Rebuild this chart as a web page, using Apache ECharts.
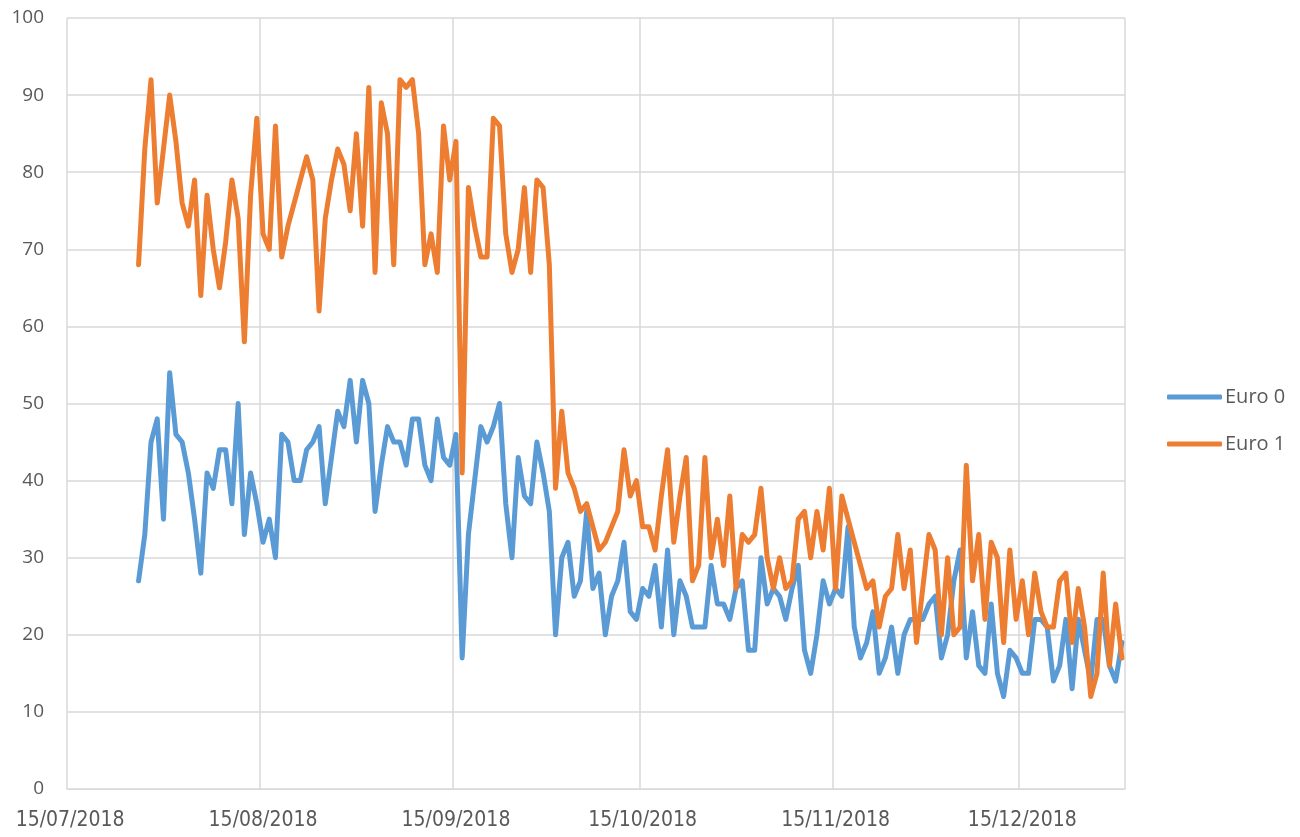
<!DOCTYPE html>
<html>
<head>
<meta charset="utf-8">
<script src="https://cdn.jsdelivr.net/npm/echarts@6/dist/echarts.min.js"></script>
<style>
  html, body { margin: 0; padding: 0; background: #fff; }
  #chart { width: 1300px; height: 837px; }
</style>
</head>
<body>
<div id="chart"></div>
<script>
// daily values, 26/07/2018 .. 31/12/2018
const euro0 = [
  27, 33, 45, 48, 35, 54, 46, 45, 41, 35,
  28, 41, 39, 44, 44, 37, 50, 33, 41, 37,
  32, 35, 30, 46, 45, 40, 40, 44, 45, 47,
  37, 43, 49, 47, 53, 45, 53, 50, 36, 42,
  47, 45, 45, 42, 48, 48, 42, 40, 48, 43,
  42, 46, 17, 33, 40, 47, 45, 47, 50, 37,
  30, 43, 38, 37, 45, 41, 36, 20, 30, 32,
  25, 27, 36, 26, 28, 20, 25, 27, 32, 23,
  22, 26, 25, 29, 21, 31, 20, 27, 25, 21,
  21, 21, 29, 24, 24, 22, 26, 27, 18, 18,
  30, 24, 26, 25, 22, 26, 29, 18, 15, 20,
  27, 24, 26, 25, 34, 21, 17, 19, 23, 15,
  17, 21, 15, 20, 22, 22, 22, 24, 25, 17,
  20, 27, 31, 17, 23, 16, 15, 24, 15, 12,
  18, 17, 15, 15, 22, 22, 21, 14, 16, 22,
  13, 22, 18, 14, 22, 22, 16, 14, 19
]
const euro1 = [
  68, 83, 92, 76, 83, 90, 84, 76, 73, 79,
  64, 77, 70, 65, 71, 79, 74, 58, 77, 87,
  72, 70, 86, 69, 73, 76, 79, 82, 79, 62,
  74, 79, 83, 81, 75, 85, 73, 91, 67, 89,
  85, 68, 92, 91, 92, 85, 68, 72, 67, 86,
  79, 84, 41, 78, 73, 69, 69, 87, 86, 72,
  67, 70, 78, 67, 79, 78, 68, 39, 49, 41,
  39, 36, 37, 34, 31, 32, 34, 36, 44, 38,
  40, 34, 34, 31, 38, 44, 32, 38, 43, 27,
  29, 43, 30, 35, 29, 38, 26, 33, 32, 33,
  39, 30, 26, 30, 26, 27, 35, 36, 30, 36,
  31, 39, 26, 38, 35, 32, 29, 26, 27, 21,
  25, 26, 33, 26, 31, 19, 26, 33, 31, 20,
  30, 20, 21, 42, 27, 33, 22, 32, 30, 19,
  31, 22, 27, 20, 28, 23, 21, 21, 27, 28,
  19, 26, 21, 12, 15, 28, 16, 24, 17
]
const seriesNames = ['Euro 0', 'Euro 1']
const colors = ['#5B9BD5', '#ED7D31']
const yTicks = [0, 10, 20, 30, 40, 50, 60, 70, 80, 90, 100]
const axisStart = new Date(2018, 6, 15)
const axisEnd = new Date(2018, 11, 31)
const dataStart = '26/07/2018'

function fmt (d) {
  const dd = String(d.getDate()).padStart(2, '0')
  const mm = String(d.getMonth() + 1).padStart(2, '0')
  return dd + '/' + mm + '/' + d.getFullYear()
}

// one category per day on the axis
const days = []
for (let d = new Date(axisStart); d <= axisEnd; d.setDate(d.getDate() + 1)) {
  days.push(fmt(d))
}
const offset = days.indexOf(dataStart)
const pad = arr => days.map((day, i) => (i < offset || i - offset >= arr.length) ? '-' : arr[i - offset])
const isMid = (index, value) => value.slice(0, 2) === '15'

const chart = echarts.init(document.getElementById('chart'))
chart.setOption({
  animation: false,
  grid: { left: 67, right: 175, top: 18, bottom: 48 },
  legend: {
    orient: 'vertical',
    left: 1162,
    top: 382,
    itemWidth: 55,
    itemHeight: 5,
    itemGap: 27,
    icon: 'roundRect',
    textStyle: { fontFamily: 'Open Sans', fontSize: 20, color: '#595959', padding: [0, 0, 0, -2] },
    data: seriesNames
  },
  xAxis: {
    type: 'category',
    data: days,
    boundaryGap: true,
    axisLine: { lineStyle: { color: '#d9d9d9', width: 1 } },
    axisTick: { interval: isMid, length: 5, lineStyle: { color: '#d9d9d9' } },
    axisLabel: {
      interval: isMid,
      margin: 21,
      color: '#595959',
      fontFamily: 'DejaVu Sans Condensed, Liberation Sans Narrow, sans-serif',
      fontSize: 21
    },
    splitLine: { show: true, interval: isMid, lineStyle: { color: '#d9d9d9', width: 1.5 } }
  },
  yAxis: {
    type: 'value',
    min: yTicks[0],
    max: yTicks[yTicks.length - 1],
    interval: 10,
    axisLine: { show: false },
    axisTick: { show: false },
    axisLabel: { margin: 23, color: '#595959', fontFamily: 'Open Sans', fontSize: 19 },
    splitLine: { lineStyle: { color: '#d9d9d9', width: 1.5 } }
  },
  series: [euro0, euro1].map((vals, i) => ({
    name: seriesNames[i],
    type: 'line',
    data: pad(vals),
    showSymbol: false,
    symbol: 'none',
    color: colors[i],
    lineStyle: { width: 5, color: colors[i], cap: 'round', join: 'round' }
  }))
})
</script>
</body>
</html>
